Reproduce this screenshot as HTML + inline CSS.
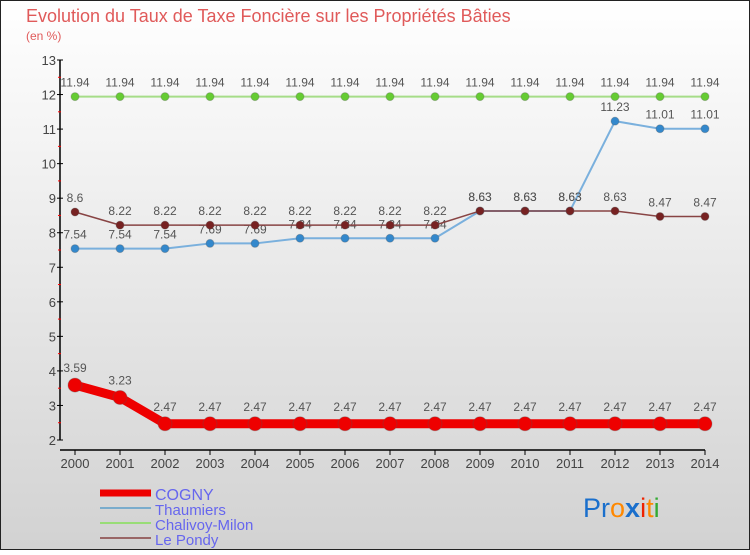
<!DOCTYPE html>
<html><head><meta charset="utf-8"><style>
html,body{margin:0;padding:0}
body{width:750px;height:550px;overflow:hidden;font-family:"Liberation Sans",sans-serif}
</style></head><body>
<svg id="chart" width="750" height="550" xmlns="http://www.w3.org/2000/svg">
<defs>
<linearGradient id="bg" x1="0" y1="0" x2="0" y2="1"><stop offset="0" stop-color="#ffffff"/><stop offset="1" stop-color="#d2d2d2"/></linearGradient>
</defs>
<rect x="0.5" y="0.5" width="749" height="549" fill="url(#bg)" stroke="#222" stroke-width="1"/>
<text x="26" y="22" font-size="18" fill="#e05a5a" font-family="Liberation Sans, sans-serif">Evolution du Taux de Taxe Foncière sur les Propriétés Bâties</text>
<text x="26" y="40" font-size="12" fill="#e05a5a">(en %)</text>
<g id="axes"></g>
<g id="series"></g>
<g>
<line x1="100" y1="493" x2="151" y2="493" stroke="#ee0000" stroke-width="7"/>
<text x="155" y="500" font-size="16" fill="#6666ee">COGNY</text>
<line x1="100" y1="508" x2="151" y2="508" stroke="#7aaccc" stroke-width="2"/>
<text x="155" y="515" font-size="15" fill="#6666ee">Thaumiers</text>
<line x1="100" y1="523" x2="151" y2="523" stroke="#99dd77" stroke-width="2"/>
<text x="155" y="530" font-size="15" fill="#6666ee">Chalivoy-Milon</text>
<line x1="100" y1="538" x2="151" y2="538" stroke="#996666" stroke-width="2"/>
<text x="155" y="545" font-size="15" fill="#6666ee">Le Pondy</text>
</g>
<g font-size="27">
<text x="583" y="517"><tspan fill="#1a6fcc">Pr</tspan><tspan fill="#ff8800">o</tspan><tspan fill="#1a6fcc" font-weight="bold">x</tspan><tspan fill="#ee2200">i</tspan><tspan fill="#ff8800">t</tspan><tspan fill="#33aa33">i</tspan></text>
</g>
</svg>
<script>
const years = [2000,2001,2002,2003,2004,2005,2006,2007,2008,2009,2010,2011,2012,2013,2014];
const cogny = [3.59,3.23,2.47,2.47,2.47,2.47,2.47,2.47,2.47,2.47,2.47,2.47,2.47,2.47,2.47];
const thaumiers = [7.54,7.54,7.54,7.69,7.69,7.84,7.84,7.84,7.84,8.63,8.63,8.63,11.23,11.01,11.01];
const chalivoy = [11.94,11.94,11.94,11.94,11.94,11.94,11.94,11.94,11.94,11.94,11.94,11.94,11.94,11.94,11.94];
const pondy = [8.6,8.22,8.22,8.22,8.22,8.22,8.22,8.22,8.22,8.63,8.63,8.63,8.63,8.47,8.47];
const yTicks = [2,3,4,5,6,7,8,9,10,11,12,13];

const NS = "http://www.w3.org/2000/svg";
const yMin = 2, yMax = 13;
function xS(i){ return 75 + i*(705-75)/(years.length-1); }
function yS(v){ return 440 - (v-yMin)*(440-60)/(yMax-yMin); }
function mk(tag, attrs, parent){ const e=document.createElementNS(NS,tag); for(const k in attrs) e.setAttribute(k,attrs[k]); parent.appendChild(e); return e; }

const axes = document.getElementById('axes');
let el = mk('line',{x1:60,y1:yS(13),x2:60,y2:yS(2),stroke:'#000','stroke-width':1.5},axes);


el = mk('line',{x1:60,y1:450,x2:705,y2:450,stroke:'#000','stroke-width':1.5},axes);


yTicks.forEach(v=>{
  const y=yS(v);
  mk('line',{x1:57,y1:y,x2:63,y2:y,stroke:'#000'},axes);
  if(v<13) mk('line',{x1:58,y1:yS(v+0.5),x2:61,y2:yS(v+0.5),stroke:'#ff0000'},axes);
  const t=mk('text',{x:56,y:y+5,'text-anchor':'end','font-size':13,fill:'#444'},axes);
  t.textContent=v;
  
  
});
years.forEach((yr,i)=>{
  const x=xS(i);
  mk('line',{x1:x,y1:450,x2:x,y2:455,stroke:'#000'},axes);
  const t=mk('text',{x:x,y:468,'text-anchor':'middle','font-size':13,fill:'#444'},axes);
  t.textContent=yr;
  
  
});

const sg = document.getElementById('series');
function drawSeries(vals, name, color, width, r, dotFill){
  const g=mk('g',{},sg);
  
  
  const pts=vals.map((v,i)=>xS(i)+','+yS(v)).join(' ');
  mk('polyline',{points:pts,fill:'none',stroke:color,'stroke-width':width,'stroke-linejoin':'round'},g);
  vals.forEach((v,i)=>{
    const c=mk('circle',{cx:xS(i),cy:yS(v),r:r,fill:dotFill,stroke:'#555','stroke-opacity':0.3},g);
    
    
    const t=mk('text',{x:xS(i),y:yS(v)-(r+6),'text-anchor':'middle','font-size':12,fill:'#555'},g);
    t.textContent=v;
    
    
  });
}
drawSeries(chalivoy,'chalivoy-milon','#a6dd88',2,4,'#66cc33');
drawSeries(thaumiers,'thaumiers','#7ab0dd',2,4,'#3388cc');
drawSeries(pondy,'le-pondy','#884444',1.5,4,'#772222');
drawSeries(cogny,'cogny','#ee0000',9,7,'#ee0000');
</script>
</body></html>
